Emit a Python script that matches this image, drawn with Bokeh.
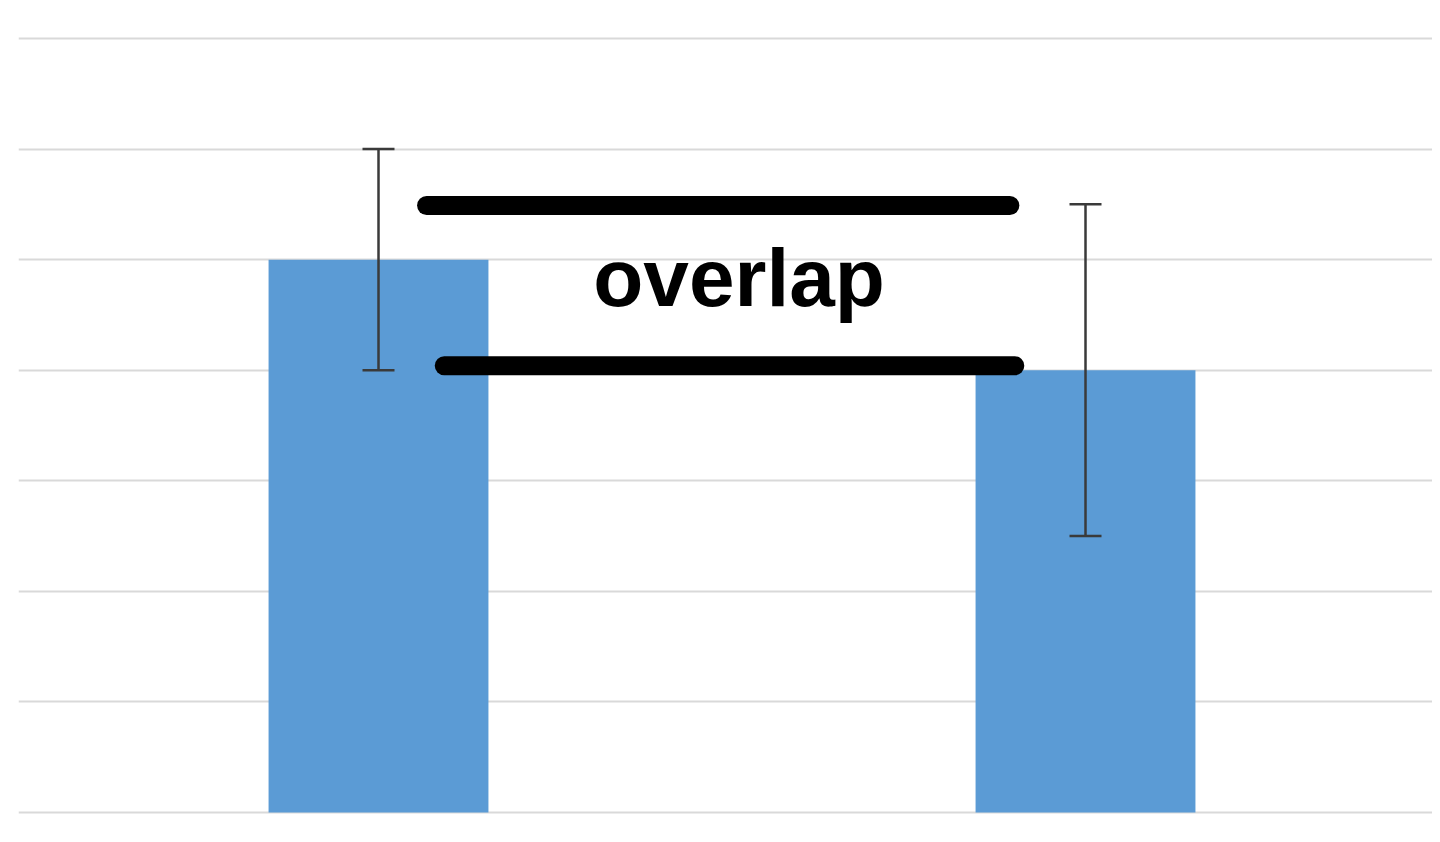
from bokeh.plotting import figure
from bokeh.models import ColumnDataSource, Whisker, TeeHead, FixedTicker, Range1d
from bokeh.core.properties import value
from bokeh.embed import file_html
from bokeh.resources import INLINE

# data
groups = [1, 2]
means = [5.0, 4.0]
errors = [1.0, 1.5]
grid_ticks = [0, 1, 2, 3, 4, 5, 6, 7]

# overlap annotation lines (upper: top of group-2 CI, lower: bottom of group-1 CI)
overlap_x0 = [1.068, 1.093]
overlap_x1 = [1.893, 1.900]
overlap_y = [5.49, 4.04]
label_text = ["overlap"]
label_x = [1.51]
label_y = [4.84]

p = figure(width=1432, height=826, output_backend="svg", toolbar_location=None,
           x_range=Range1d(0.4908, 2.4908), y_range=Range1d(-0.1266, 7.3437),
           min_border_left=18, min_border_right=0, min_border_top=0, min_border_bottom=0)
p.outline_line_color = None
p.xaxis.visible = False
p.yaxis.visible = False
p.xgrid.visible = False
p.ygrid.ticker = FixedTicker(ticks=grid_ticks)
p.ygrid.grid_line_color = "#d9d9d9"
p.ygrid.grid_line_width = 2
p.background_fill_color = "white"

src = ColumnDataSource(dict(x=groups, top=means,
                            upper=[m + e for m, e in zip(means, errors)],
                            lower=[m - e for m, e in zip(means, errors)]))
p.vbar(x="x", top="top", bottom=0, width=0.311, source=src,
       fill_color="#5b9bd5", line_color=None)

w = Whisker(base="x", upper="upper", lower="lower", source=src,
            line_color="#3a3a3a", line_width=2.5, level="overlay",
            upper_head=TeeHead(size=32, line_color="#3a3a3a", line_width=2.5),
            lower_head=TeeHead(size=32, line_color="#3a3a3a", line_width=2.5))
p.add_layout(w)

p.segment(x0=overlap_x0, x1=overlap_x1, y0=overlap_y, y1=overlap_y,
          line_color="black", line_width=19, line_cap="round")

p.text(x=label_x, y=label_y, text=label_text, text_align="center",
       text_baseline="alphabetic", text_font=value("Liberation Sans"),
       text_font_style="bold", text_font_size="82px", text_color="black")

open("out.html", "w").write(file_html(p, INLINE))
